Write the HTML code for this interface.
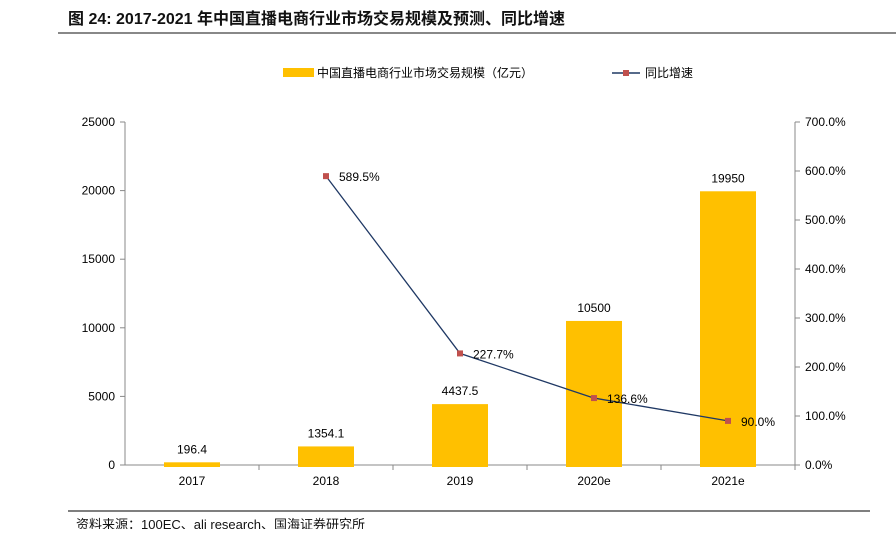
<!DOCTYPE html>
<html><head><meta charset="utf-8"><style>
body{margin:0;background:#fff;width:896px;height:529px;overflow:hidden;font-family:"Liberation Sans","Noto Sans CJK SC",sans-serif}
</style></head><body>
<svg width="896" height="529" xmlns="http://www.w3.org/2000/svg" font-family="'Liberation Sans','Noto Sans CJK SC',sans-serif">
<text x="68" y="24" font-size="16" font-weight="bold" fill="#111">图 24:  2017-2021 年中国直播电商行业市场交易规模及预测、同比增速</text>
<line x1="58" y1="33" x2="896" y2="33" stroke="#888" stroke-width="2"/>
<g>
<rect x="283" y="68" width="31" height="9" fill="#FFC000"/>
<text x="317" y="77" font-size="12" fill="#000">中国直播电商行业市场交易规模（亿元）</text>
<line x1="612" y1="73" x2="640" y2="73" stroke="#1F3864" stroke-width="1.5"/>
<rect x="623" y="70" width="6" height="6" fill="#C0504D"/>
<text x="645" y="77" font-size="12" fill="#000">同比增速</text>
</g>
<g id="axes"></g>
<g id="marks"></g>
<line x1="68" y1="511" x2="870" y2="511" stroke="#555" stroke-width="1.5"/>
<text x="76" y="529" font-size="13" fill="#111">资料来源：100EC、ali research、国海证券研究所</text>
</svg>
<script>
const categories=["2017","2018","2019","2020e","2021e"];
const values=[196.4,1354.1,4437.5,10500,19950];
const valueLabels=["196.4","1354.1","4437.5","10500","19950"];
const growth=[null,589.5,227.7,136.6,90.0];
const growthLabels=["","589.5%","227.7%","136.6%","90.0%"];
const leftTicks=[0,5000,10000,15000,20000,25000];
const rightTicks=[0,100,200,300,400,500,600,700];
const NS="http://www.w3.org/2000/svg";
const x0=125,x1=795,y0=465,yTop=122;
const bw=(x1-x0)/categories.length;
const yL=v=>y0-v/25000*(y0-yTop);
const yR=v=>y0-v/700*(y0-yTop);
const xc=i=>x0+bw*(i+0.5);
function mk(t,a,p,txt){const e=document.createElementNS(NS,t);for(const k in a)e.setAttribute(k,a[k]);if(txt!=null)e.textContent=txt;p.appendChild(e);return e;}
const ax=document.getElementById('axes'),mg=document.getElementById('marks');
let e=mk('line',{x1:x0,y1:yTop,x2:x0,y2:y0,stroke:'#888'},ax);


e=mk('line',{x1:x1,y1:yTop,x2:x1,y2:y0,stroke:'#888'},ax);


e=mk('line',{x1:x0,y1:y0,x2:x1,y2:y0,stroke:'#888'},ax);


leftTicks.forEach(t=>{mk('line',{x1:x0-5,x2:x0,y1:yL(t),y2:yL(t),stroke:'#888'},ax);
e=mk('text',{x:x0-10,y:yL(t)+4,'text-anchor':'end','font-size':12},ax,String(t));

});
rightTicks.forEach(t=>{mk('line',{x1:x1,x2:x1+5,y1:yR(t),y2:yR(t),stroke:'#888'},ax);
e=mk('text',{x:x1+10,y:yR(t)+4,'font-size':12},ax,t.toFixed(1)+'%');

});
categories.forEach((c,i)=>{mk('line',{x1:x0+bw*(i+1),x2:x0+bw*(i+1),y1:y0,y2:y0+5,stroke:'#888'},ax);
e=mk('text',{x:xc(i),y:y0+20,'text-anchor':'middle','font-size':12},ax,c);


e=mk('rect',{x:xc(i)-28,y:yL(values[i]),width:56,height:y0+2-yL(values[i]),fill:'#FFC000'},mg);


e=mk('text',{x:xc(i),y:yL(values[i])-9,'text-anchor':'middle','font-size':12},mg,valueLabels[i]);

});
const pts=[];growth.forEach((g,i)=>{if(g!=null)pts.push([xc(i),yR(g),i]);});
e=mk('polyline',{points:pts.map(p=>p[0]+','+p[1]).join(' '),fill:'none',stroke:'#1F3864','stroke-width':1.3},mg);


pts.forEach(p=>{e=mk('rect',{x:p[0]-3,y:p[1]-3,width:6,height:6,fill:'#C0504D'},mg);


e=mk('text',{x:p[0]+13,y:p[1]+5,'font-size':12},mg,growthLabels[p[2]]);

});
</script>
</body></html>
